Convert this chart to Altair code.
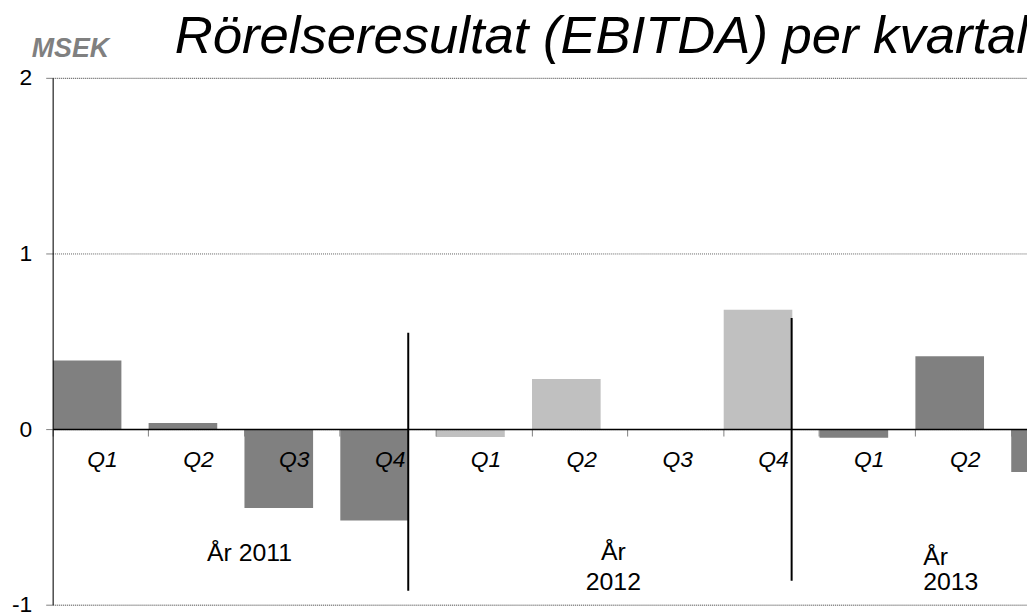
import altair as alt
import pandas as pd

# ---- data ----
years = ["2011", "2011", "2011", "2011", "2012", "2012", "2012", "2012", "2013", "2013", "2013"]
quarters = ["Q1", "Q2", "Q3", "Q4", "Q1", "Q2", "Q3", "Q4", "Q1", "Q2", "Q3"]
ebitda = [0.39, 0.035, -0.45, -0.52, -0.045, 0.285, 0.0, 0.68, -0.05, 0.415, -0.245]

year_colors = {"2011": "#808080", "2012": "#c0c0c0", "2013": "#808080"}

title_text = "Rörelseresultat (EBITDA) per kvartal"
unit_text = "MSEK"

# separators between years (drawn lines in the original)
sep_quarters = ["2011 Q4", "2012 Q4"]
sep_top = [0.548, 0.633]
sep_bottom = [-0.921, -0.864]

# year annotations: text lines, anchor quarter, band fraction, y value, align, line height
ann_text = [["År 2011"], ["År", "2012"], ["År", "2013"]]
ann_quarter = ["2011 Q3", "2012 Q2", "2013 Q2"]
ann_band = [0.054, 0.85, 0.083]
ann_y = [-0.751, -0.746, -0.775]
ann_align = ["center", "center", "left"]
ann_lh = [30, 30, 25]

keys = [f"{y} {q}" for y, q in zip(years, quarters)]
df = pd.DataFrame({"key": keys, "year": years, "q": quarters, "v": ebitda})
# the last quarter's label lies beyond the visible area in the original
visible_label_keys = keys[:-1]

W = 982
H = 531
BAND = 96.6
FONT = "Liberation Sans"

xscale = alt.Scale(domain=keys, range=[0, BAND * len(keys)], paddingInner=0,
                   paddingOuter=0, round=False)
yscale = alt.Scale(domain=[-1, 2], nice=False, zero=False)

x_axis = alt.Axis(
    orient="bottom", offset=-177, labels=False, title=None, grid=False,
    bandPosition=0, ticks=True, tickSize=7, tickColor="#808080", tickWidth=1,
    domain=True, domainColor="#000000", domainWidth=1.5, zindex=1,
)
y_axis = alt.Axis(
    values=[-1, 0, 1, 2], labelExpr="'' + datum.value", title=None, grid=True,
    gridColor="#606060", gridDash=[1, 1], gridWidth=1, tickSize=7, tickColor="#808080",
    labelFontSize=23, labelColor="#000000", labelFont=FONT, labelPadding=14,
    domainColor="#000000", domainWidth=1, zindex=1,
)

bars = alt.Chart(df).mark_bar(
    width=alt.RelativeBandSize(0.716), xOffset=-13.6, clip=True
).encode(
    x=alt.X("key:N", scale=xscale, sort=keys, axis=x_axis),
    y=alt.Y("v:Q", scale=yscale, axis=y_axis),
    y2=alt.Y2(datum=0),
    color=alt.Color("year:N", scale=alt.Scale(domain=list(year_colors.keys()),
                                              range=list(year_colors.values())), legend=None),
)

qlabels = alt.Chart(df).transform_filter(
    alt.FieldOneOfPredicate(field="key", oneOf=visible_label_keys)
).mark_text(
    font=FONT, fontSize=23, fontStyle="italic", color="#000000",
    baseline="alphabetic", align="center", dy=38.5, dx=2
).encode(
    x=alt.X("key:N", scale=xscale, sort=keys),
    y=alt.Y(datum=0, scale=yscale),
    text="q:N",
)

sep_df = pd.DataFrame({"key": sep_quarters, "top": sep_top, "bottom": sep_bottom})
seps = alt.Chart(sep_df).mark_rule(color="#000000", strokeWidth=2).encode(
    x=alt.X("key:N", scale=xscale, sort=keys, bandPosition=0.71),
    y=alt.Y("top:Q", scale=yscale),
    y2="bottom:Q",
)

ann_layers = []
for t, k, b, yv, al, lh in zip(ann_text, ann_quarter, ann_band, ann_y, ann_align, ann_lh):
    d = pd.DataFrame({"key": [k], "t": [t], "y": [yv]})
    ann_layers.append(
        alt.Chart(d).mark_text(font=FONT, fontSize=25, color="#000000", lineHeight=lh,
                               baseline="alphabetic", align=al).encode(
            x=alt.X("key:N", scale=xscale, sort=keys, bandPosition=b),
            y=alt.Y("y:Q", scale=yscale),
            text="t",
        )
    )

title = alt.Chart(pd.DataFrame({"t": [title_text]})).mark_text(
    font=FONT, fontSize=53, fontStyle="italic", color="#000000",
    align="right", baseline="alphabetic"
).encode(x=alt.value(983), y=alt.value(-25), text="t:N")

unit = alt.Chart(pd.DataFrame({"t": [unit_text]})).mark_text(
    font=FONT, fontSize=27, fontStyle="italic", fontWeight="bold", color="#808080",
    align="left", baseline="alphabetic"
).encode(x=alt.value(-21), y=alt.value(-21), text="t:N")

chart = alt.layer(bars, qlabels, seps, *ann_layers, title, unit).properties(
    width=W, height=H,
    autosize=alt.AutoSizeParams(type="none"),
    padding={"left": 45, "top": 68, "right": 0, "bottom": 10},
).configure_view(stroke=None).configure(background="#ffffff")

chart.save("out.html", embed_options={"renderer": "svg", "actions": False})
